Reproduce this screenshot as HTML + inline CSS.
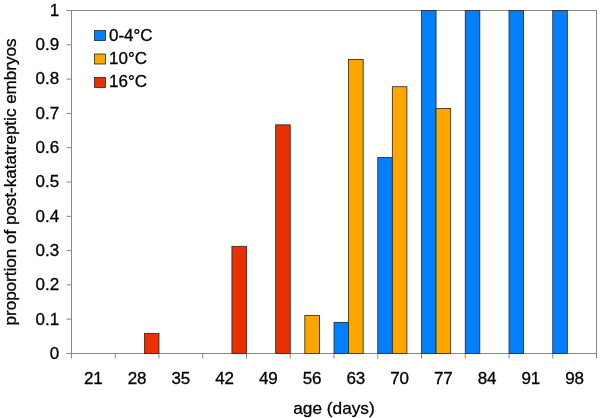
<!DOCTYPE html>
<html><head><meta charset="utf-8"><title>chart</title>
<style>
html,body{margin:0;padding:0;background:#fff;}
svg{display:block;}
text{stroke:#000;stroke-width:0.3px;font-family:"Liberation Sans",Arial,Helvetica,sans-serif;fill:#000;}
</style></head><body>
<svg width="600" height="418" viewBox="0 0 600 418">
<rect x="0" y="0" width="600" height="418" fill="#ffffff"/>
<rect x="71.5" y="10.5" width="525.0" height="343.0" fill="none" stroke="#888888" stroke-width="1"/>
<line x1="66.5" y1="353.50" x2="71.5" y2="353.50" stroke="#888888" stroke-width="1"/>
<text x="59.2" y="358.80" font-size="17" text-anchor="end">0</text>
<line x1="66.5" y1="319.20" x2="71.5" y2="319.20" stroke="#888888" stroke-width="1"/>
<text x="59.2" y="324.50" font-size="17" text-anchor="end">0.1</text>
<line x1="66.5" y1="284.90" x2="71.5" y2="284.90" stroke="#888888" stroke-width="1"/>
<text x="59.2" y="290.20" font-size="17" text-anchor="end">0.2</text>
<line x1="66.5" y1="250.60" x2="71.5" y2="250.60" stroke="#888888" stroke-width="1"/>
<text x="59.2" y="255.90" font-size="17" text-anchor="end">0.3</text>
<line x1="66.5" y1="216.30" x2="71.5" y2="216.30" stroke="#888888" stroke-width="1"/>
<text x="59.2" y="221.60" font-size="17" text-anchor="end">0.4</text>
<line x1="66.5" y1="182.00" x2="71.5" y2="182.00" stroke="#888888" stroke-width="1"/>
<text x="59.2" y="187.30" font-size="17" text-anchor="end">0.5</text>
<line x1="66.5" y1="147.70" x2="71.5" y2="147.70" stroke="#888888" stroke-width="1"/>
<text x="59.2" y="153.00" font-size="17" text-anchor="end">0.6</text>
<line x1="66.5" y1="113.40" x2="71.5" y2="113.40" stroke="#888888" stroke-width="1"/>
<text x="59.2" y="118.70" font-size="17" text-anchor="end">0.7</text>
<line x1="66.5" y1="79.10" x2="71.5" y2="79.10" stroke="#888888" stroke-width="1"/>
<text x="59.2" y="84.40" font-size="17" text-anchor="end">0.8</text>
<line x1="66.5" y1="44.80" x2="71.5" y2="44.80" stroke="#888888" stroke-width="1"/>
<text x="59.2" y="50.10" font-size="17" text-anchor="end">0.9</text>
<line x1="66.5" y1="10.50" x2="71.5" y2="10.50" stroke="#888888" stroke-width="1"/>
<text x="59.2" y="15.80" font-size="17" text-anchor="end">1</text>
<line x1="71.50" y1="353.5" x2="71.50" y2="358.5" stroke="#888888" stroke-width="1"/>
<line x1="115.25" y1="353.5" x2="115.25" y2="358.5" stroke="#888888" stroke-width="1"/>
<line x1="159.00" y1="353.5" x2="159.00" y2="358.5" stroke="#888888" stroke-width="1"/>
<line x1="202.75" y1="353.5" x2="202.75" y2="358.5" stroke="#888888" stroke-width="1"/>
<line x1="246.50" y1="353.5" x2="246.50" y2="358.5" stroke="#888888" stroke-width="1"/>
<line x1="290.25" y1="353.5" x2="290.25" y2="358.5" stroke="#888888" stroke-width="1"/>
<line x1="334.00" y1="353.5" x2="334.00" y2="358.5" stroke="#888888" stroke-width="1"/>
<line x1="377.75" y1="353.5" x2="377.75" y2="358.5" stroke="#888888" stroke-width="1"/>
<line x1="421.50" y1="353.5" x2="421.50" y2="358.5" stroke="#888888" stroke-width="1"/>
<line x1="465.25" y1="353.5" x2="465.25" y2="358.5" stroke="#888888" stroke-width="1"/>
<line x1="509.00" y1="353.5" x2="509.00" y2="358.5" stroke="#888888" stroke-width="1"/>
<line x1="552.75" y1="353.5" x2="552.75" y2="358.5" stroke="#888888" stroke-width="1"/>
<line x1="596.50" y1="353.5" x2="596.50" y2="358.5" stroke="#888888" stroke-width="1"/>
<text x="93.38" y="383.8" font-size="17" text-anchor="middle">21</text>
<text x="137.12" y="383.8" font-size="17" text-anchor="middle">28</text>
<text x="180.88" y="383.8" font-size="17" text-anchor="middle">35</text>
<text x="224.62" y="383.8" font-size="17" text-anchor="middle">42</text>
<text x="268.38" y="383.8" font-size="17" text-anchor="middle">49</text>
<text x="312.12" y="383.8" font-size="17" text-anchor="middle">56</text>
<text x="355.88" y="383.8" font-size="17" text-anchor="middle">63</text>
<text x="399.62" y="383.8" font-size="17" text-anchor="middle">70</text>
<text x="443.38" y="383.8" font-size="17" text-anchor="middle">77</text>
<text x="487.12" y="383.8" font-size="17" text-anchor="middle">84</text>
<text x="530.88" y="383.8" font-size="17" text-anchor="middle">91</text>
<text x="574.62" y="383.8" font-size="17" text-anchor="middle">98</text>
<rect x="144.42" y="333.32" width="14.58" height="20.18" fill="#e83000" stroke="#262626" stroke-width="0.8"/>
<rect x="231.92" y="246.31" width="14.58" height="107.19" fill="#e83000" stroke="#262626" stroke-width="0.8"/>
<rect x="275.67" y="124.83" width="14.58" height="228.67" fill="#e83000" stroke="#262626" stroke-width="0.8"/>
<rect x="304.83" y="315.39" width="14.58" height="38.11" fill="#ffa500" stroke="#262626" stroke-width="0.8"/>
<rect x="334.00" y="322.32" width="14.58" height="31.18" fill="#0080ff" stroke="#262626" stroke-width="0.8"/>
<rect x="348.58" y="59.50" width="14.58" height="294.00" fill="#ffa500" stroke="#262626" stroke-width="0.8"/>
<rect x="377.75" y="157.50" width="14.58" height="196.00" fill="#0080ff" stroke="#262626" stroke-width="0.8"/>
<rect x="392.33" y="86.72" width="14.58" height="266.78" fill="#ffa500" stroke="#262626" stroke-width="0.8"/>
<rect x="421.50" y="10.50" width="14.58" height="343.00" fill="#0080ff" stroke="#262626" stroke-width="0.8"/>
<rect x="436.08" y="108.50" width="14.58" height="245.00" fill="#ffa500" stroke="#262626" stroke-width="0.8"/>
<rect x="465.25" y="10.50" width="14.58" height="343.00" fill="#0080ff" stroke="#262626" stroke-width="0.8"/>
<rect x="509.00" y="10.50" width="14.58" height="343.00" fill="#0080ff" stroke="#262626" stroke-width="0.8"/>
<rect x="552.75" y="10.50" width="14.58" height="343.00" fill="#0080ff" stroke="#262626" stroke-width="0.8"/>
<rect x="94.5" y="30.5" width="11" height="10" fill="#0080ff" stroke="#262626" stroke-width="0.8"/>
<text x="109" y="40.70" font-size="17">0-4°C</text>
<rect x="94.5" y="54" width="11" height="10" fill="#ffa500" stroke="#262626" stroke-width="0.8"/>
<text x="109" y="64.20" font-size="17">10°C</text>
<rect x="94.5" y="77.5" width="11" height="10" fill="#e83000" stroke="#262626" stroke-width="0.8"/>
<text x="109" y="87.30" font-size="17">16°C</text>
<text x="334" y="413.5" font-size="17" text-anchor="middle" textLength="81.5" lengthAdjust="spacingAndGlyphs">age (days)</text>
<text transform="translate(15.8,182) rotate(-90)" font-size="17" text-anchor="middle" textLength="287" lengthAdjust="spacingAndGlyphs">proportion of post-katatreptic embryos</text>
</svg>
</body></html>
